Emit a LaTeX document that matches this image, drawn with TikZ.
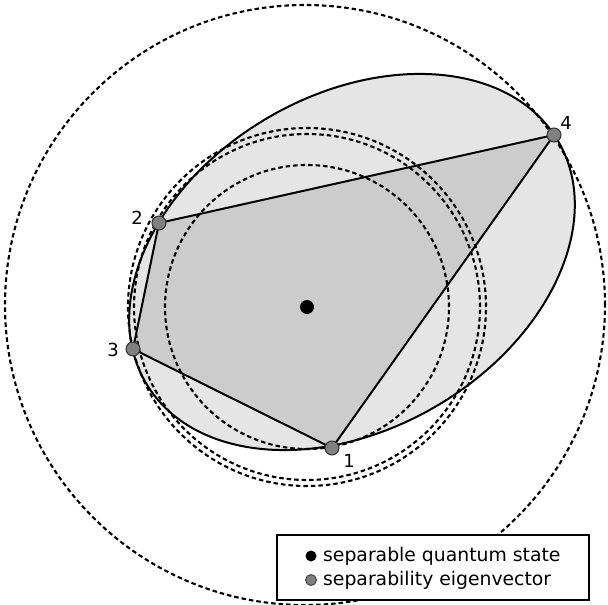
\documentclass[tikz,border=0pt]{standalone}
\usepackage{fontspec}
\setmainfont{DejaVu Sans}
\usetikzlibrary{backgrounds}
\definecolor{ellfill}{gray}{0.9}
\definecolor{polyfill}{gray}{0.8}
\definecolor{vgray}{gray}{0.5}
\begin{document}
\begin{tikzpicture}[x=1pt,y=-1pt,
  dotc/.style={draw=black, line width=2.1pt, dash pattern=on 4.5pt off 3pt},
  solidl/.style={draw=black, line width=2pt},
  vert/.style={circle, fill=vgray, draw=black!80, line width=1pt, minimum size=14pt, inner sep=0pt},
  legvert/.style={circle, fill=vgray, draw=black!80, line width=0.8pt, minimum size=11pt, inner sep=0pt},
  cdot/.style={circle, fill=black, minimum size=14pt, inner sep=0pt},
  legdot/.style={circle, fill=black, minimum size=11pt, inner sep=0pt},
  lbl/.style={font=\fontsize{18}{20}\selectfont, inner sep=0pt},
  legtxt/.style={font=\fontsize{18.8}{22}\selectfont, inner sep=0pt, anchor=base west},
  legbox/.style={draw=black, line width=1.3pt, fill=white, minimum width=312pt, minimum height=65pt, inner sep=0pt}
  ]
\useasboundingbox (0,0) rectangle (608,605);
% geometry
\coordinate (ec) at (352,262);
\coordinate (cc) at (307,307);
\coordinate (bc) at (305,305);
% vertices
\node[vert] (v1) at (332,448) {};
\node[vert] (v2) at (159,223) {};
\node[vert] (v3) at (133,349) {};
\node[vert] (v4) at (554,135) {};
% centre
\node[cdot] (c) at (cc) {};
% labels
\node[lbl] (l1) at (349,461) {1};
\node[lbl] (l2) at (137,218) {2};
\node[lbl] (l3) at (113,350) {3};
\node[lbl] (l4) at (566,123) {4};
% shapes beneath the nodes
\begin{pgfonlayer}{background}
\fill[ellfill, rotate around={30.4:(ec)}] (ec) ellipse [x radius=239pt, y radius=167pt];
\fill[polyfill] (v1.center) -- (v4.center) -- (v2.center) -- (v3.center) -- cycle;
\draw[dotc] (cc) circle [radius=142pt];
\draw[dotc] (cc) circle [radius=173pt];
\draw[dotc] (cc) circle [radius=179pt];
\draw[dotc] (bc) circle [radius=300pt];
\draw[solidl, rotate around={30.4:(ec)}] (ec) ellipse [x radius=239pt, y radius=167pt];
\draw[solidl] (v1.center) -- (v4.center);
\draw[solidl] (v4.center) -- (v2.center);
\draw[solidl] (v2.center) -- (v3.center);
\draw[solidl] (v3.center) -- (v1.center);
\end{pgfonlayer}
% legend
\node[legbox] (leg) at (433,567.5) {};
\node[legdot] (ld1) at (311,556) {};
\node[legvert] (ld2) at (311,580) {};
\node[legtxt] (t1) at (323,561.7) {separable quantum state};
\node[legtxt] (t2) at (323,585.5) {separability eigenvector};
\end{tikzpicture}
\end{document}
